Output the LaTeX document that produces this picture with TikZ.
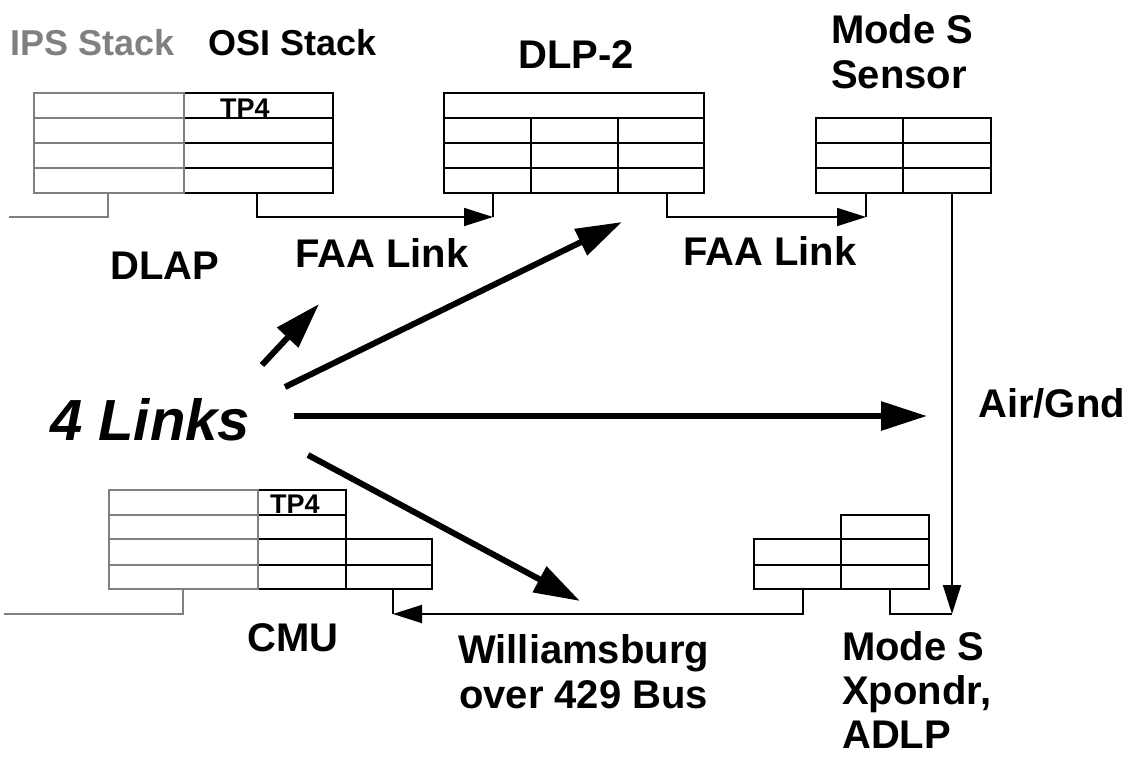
\documentclass[tikz,border=0pt]{standalone}
\usepackage{fontspec}
\setmainfont{Liberation Sans}
\usetikzlibrary{arrows.meta,positioning}

\begin{document}
\begin{tikzpicture}[
    x=1pt, y=-1pt,
    lbl/.style={font=\fontsize{40}{45}\selectfont\bfseries, inner sep=0pt, anchor=base west, align=left},
    hdr/.style={font=\fontsize{36}{40}\selectfont\bfseries, inner sep=0pt, anchor=base west},
    tpl/.style={font=\fontsize{27}{30}\selectfont\bfseries, inner sep=0pt, anchor=base west},
    osicell/.style={line width=1.8pt, draw=black},
    ipscell/.style={line width=1.8pt, draw=gray},
    wire/.style={line width=1.8pt},
    wirearr/.style={wire, -{Triangle[length=29pt,width=18pt]}},
    bigarr/.style={line width=6pt, -{Triangle[length=46pt,width=28pt]}}
]
    \useasboundingbox (0,0) rectangle (1136,758);

    % Titles
    \node[hdr, text=gray] (ipshdr) at (10,55) {IPS Stack};
    \node[hdr]            (osihdr) at (208,55) {OSI Stack};
    \node[lbl]            (dlphdr) at (518,68) {DLP-2};
    \node[lbl]            (senhdr) at (831,88) {Mode S\\Sensor};

    % DLAP stack (ground)
    \draw[osicell] (184,93) rectangle (333,193);
    \foreach \y in {118,143,168} \draw[osicell] (184,\y) -- (333,\y);
    \draw[ipscell] (34,93) rectangle (184,193);
    \foreach \y in {118,143,168} \draw[ipscell] (34,\y) -- (184,\y);
    \node[tpl] (tpa) at (220,117) {TP4};

    % DLP-2 stack
    \draw[osicell] (444,93) rectangle (704,193);
    \foreach \y in {118,143,168} \draw[osicell] (444,\y) -- (704,\y);
    \foreach \x in {531,618} \draw[osicell] (\x,118) -- (\x,193);

    % Mode S sensor stack
    \draw[osicell] (816,118) rectangle (991,193);
    \foreach \y in {143,168} \draw[osicell] (816,\y) -- (991,\y);
    \draw[osicell] (903,118) -- (903,193);

    % CMU stack (airborne)
    \draw[osicell] (258,490) rectangle (346,589);
    \foreach \y in {515,539,565} \draw[osicell] (258,\y) -- (346,\y);
    \draw[osicell] (346,539) rectangle (432,589);
    \draw[osicell] (346,565) -- (432,565);
    \draw[ipscell] (109,490) rectangle (258,589);
    \foreach \y in {515,539,565} \draw[ipscell] (109,\y) -- (258,\y);
    \node[tpl] (tpb) at (270,513) {TP4};

    % Mode S transponder stack
    \draw[osicell] (754,539) rectangle (929,589);
    \draw[osicell] (754,565) -- (929,565);
    \draw[osicell] (841,515) rectangle (929,589);
    \draw[osicell] (841,539) -- (929,539);

    % stub points
    \coordinate (dlapIps) at (108,193);
    \coordinate (dlapOut) at (257,193);
    \coordinate (dlpIn)   at (493,193);
    \coordinate (dlpFoot) at (493,217);
    \coordinate (dlpOut)  at (667,193);
    \coordinate (senIn)   at (866,193);
    \coordinate (senFoot) at (866,217);
    \coordinate (senOut)  at (952,193);
    \coordinate (airEnd)  at (952,614);
    \coordinate (xpdOut)  at (890,589);
    \coordinate (xpdBus)  at (803,589);
    \coordinate (cmuIn)   at (393,589);
    \coordinate (cmuFoot) at (393,614);
    \coordinate (cmuIps)  at (183,589);

    % Links between stacks
    \draw[ipscell] (dlapIps) |- (9,217);
    \draw[wirearr] (dlapOut) |- (dlpFoot);
    \draw[wire] (dlpIn) -- (dlpFoot);
    \draw[wirearr] (dlpOut) |- (senFoot);
    \draw[wire] (senIn) -- (senFoot);
    \draw[wirearr] (senOut) -- (airEnd);
    \draw[wire] (xpdOut) |- (airEnd);
    \draw[wirearr] (xpdBus) |- (cmuFoot);
    \draw[wire] (cmuIn) -- (cmuFoot);
    \draw[ipscell] (cmuIps) |- (4,614);

    % Link labels
    \node[lbl] (dlap) at (110,279) {DLAP};
    \node[lbl] (faa1) at (295,267) {FAA Link};
    \node[lbl] (faa2) at (683,265) {FAA Link};
    \node[lbl] (air)  at (978,417) {Air/Gnd};
    \node[lbl] (cmu)  at (247,651) {CMU};
    \node[lbl, align=center] (wbg) at (458,708) {Williamsburg\\over 429 Bus};
    \node[lbl, font=\fontsize{40}{44}\selectfont\bfseries] (xpd) at (842,748) {Mode S\\Xpondr,\\ADLP};

    % 4 Links and its arrows
    \node[font=\fontsize{58}{64}\selectfont\bfseries\itshape, inner sep=0pt, anchor=base west] (links) at (50,440) {4 Links};
    \coordinate (l1s) at (262,365);
    \coordinate (l1e) at (319,304);
    \coordinate (l2s) at (285,387);
    \coordinate (l2e) at (622,222);
    \coordinate (l3s) at (294,416);
    \coordinate (l3e) at (927,416);
    \coordinate (l4s) at (308,455);
    \coordinate (l4e) at (580,601);
    \draw[bigarr] (l1s) -- (l1e);
    \draw[bigarr] (l2s) -- (l2e);
    \draw[bigarr] (l3s) -- (l3e);
    \draw[bigarr] (l4s) -- (l4e);

\end{tikzpicture}
\end{document}
